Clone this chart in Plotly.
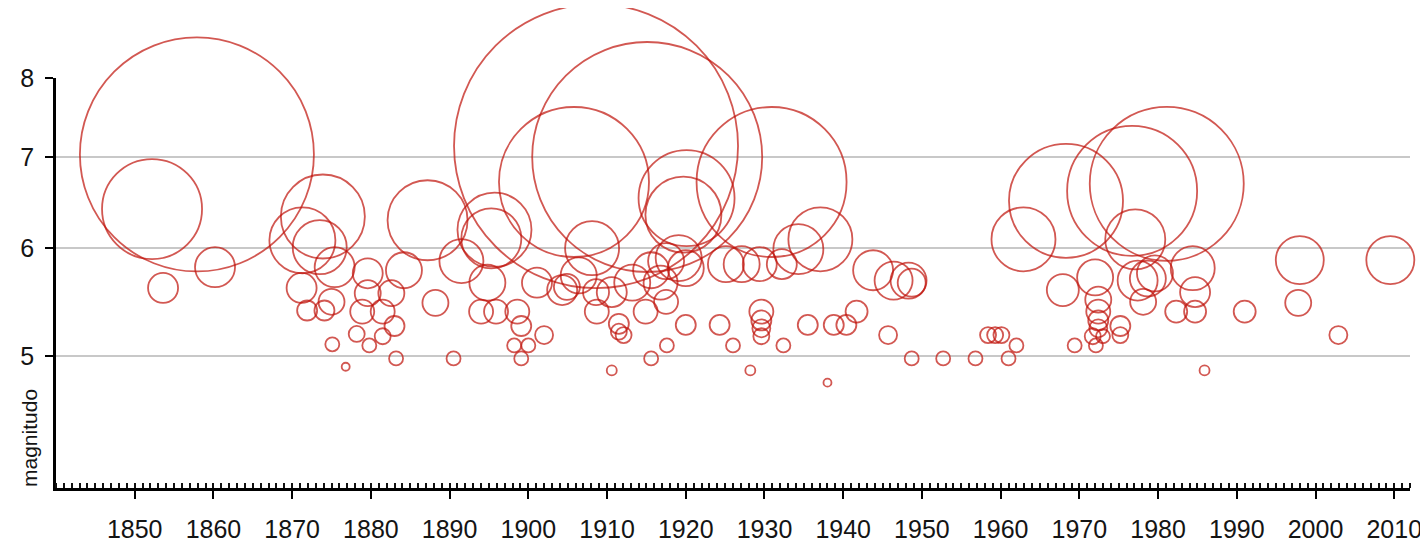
import math
import plotly.graph_objects as go

# terremoti: anno, magnitudo, dimensione della bolla (area relativa)
anno = [
    1852.2, 1853.6, 1857.9, 1860.2, 1871.3, 1873.9, 1873.5, 1875.4, 1871.2, 1875.0,
    1871.9, 1874.1, 1875.1, 1876.8, 1878.2, 1879.6, 1879.6, 1882.6, 1878.9, 1881.5,
    1883.0, 1881.5, 1879.8, 1883.2, 1884.2, 1887.2, 1888.2, 1890.5, 1891.5, 1895.7,
    1895.3, 1894.8, 1894.0, 1895.9, 1898.6, 1899.1, 1898.2, 1900.0, 1899.1, 1902.0,
    1901.1, 1904.3, 1904.9, 1906.4, 1905.8, 1908.6, 1915.1, 1908.1, 1908.6, 1910.6,
    1913.2, 1915.6, 1917.5, 1919.1, 1920.0, 1916.8, 1908.7, 1911.5, 1911.5, 1912.1,
    1914.9, 1917.5, 1915.6, 1917.6, 1920.0, 1924.3, 1926.0, 1910.6, 1928.2, 1925.1,
    1927.1, 1929.4, 1929.6, 1929.6, 1929.6, 1929.6, 1932.4, 1932.2, 1930.9, 1920.1,
    1919.7, 1937.1, 1934.3, 1943.8, 1946.4, 1948.3, 1948.7, 1935.5, 1938.8, 1940.4,
    1941.7, 1945.7, 1948.7, 1952.7, 1956.8, 1961.0, 1958.4, 1959.3, 1960.1, 1962.0,
    1938.0, 1969.4, 1967.9, 1972.0, 1962.9, 1968.3, 1976.7, 1981.1, 1977.1, 1972.4,
    1972.4, 1972.4, 1972.4, 1971.7, 1973.0, 1972.1, 1975.2, 1975.2, 1977.4, 1978.7,
    1979.6, 1978.1, 1984.4, 1984.7, 1982.3, 1984.7, 1985.9, 1991.0, 1998.0, 1997.8,
    2002.9, 2009.5,
]
magnitudo = [
    6.41, 5.61, 7.03, 5.81, 6.08, 6.33, 6.01, 5.81, 5.61, 5.48,
    5.40, 5.40, 5.10, 4.91, 5.19, 5.75, 5.56, 5.56, 5.39, 5.39,
    5.26, 5.17, 5.09, 4.98, 5.78, 6.29, 5.47, 4.98, 5.87, 6.19,
    6.10, 5.66, 5.39, 5.39, 5.39, 5.26, 5.09, 5.09, 4.98, 5.18,
    5.66, 5.59, 5.62, 5.73, 6.71, 7.13, 7.00, 6.00, 5.57, 5.57,
    5.66, 5.78, 5.87, 5.90, 5.80, 5.66, 5.39, 5.28, 5.21, 5.18,
    5.39, 5.48, 4.98, 5.09, 5.27, 5.27, 5.09, 4.88, 4.88, 5.84,
    5.84, 5.84, 5.39, 5.31, 5.24, 5.17, 5.09, 5.84, 6.71, 6.53,
    6.35, 6.09, 5.99, 5.78, 5.68, 5.68, 5.66, 5.27, 5.27, 5.27,
    5.39, 5.18, 4.98, 4.98, 4.98, 4.98, 5.18, 5.18, 5.18, 5.09,
    4.78, 5.09, 5.59, 5.71, 6.09, 6.50, 6.61, 6.69, 6.09, 5.50,
    5.39, 5.31, 5.24, 5.17, 5.17, 5.09, 5.26, 5.18, 5.68, 5.70,
    5.75, 5.48, 5.80, 5.57, 5.39, 5.39, 4.88, 5.39, 5.88, 5.47,
    5.18, 5.88,
]
dimensione = [
    2500, 225, 13689, 400, 1089, 1764, 729, 400, 225, 169,
    100, 100, 49, 16, 64, 225, 169, 169, 144, 144,
    100, 64, 49, 49, 324, 1600, 169, 49, 484, 1369,
    900, 324, 144, 144, 144, 100, 49, 49, 49, 81,
    225, 225, 169, 324, 5625, 20164, 13225, 729, 169, 225,
    324, 324, 324, 529, 324, 289, 144, 100, 64, 64,
    144, 144, 49, 49, 100, 100, 49, 25, 25, 324,
    324, 289, 144, 100, 81, 64, 49, 225, 5625, 2304,
    1444, 1024, 625, 400, 361, 324, 196, 100, 100, 100,
    121, 81, 49, 49, 49, 49, 64, 64, 64, 49,
    16, 49, 256, 324, 1024, 3249, 4225, 5929, 900, 169,
    144, 100, 81, 64, 49, 49, 100, 64, 400, 324,
    324, 169, 484, 225, 121, 121, 25, 121, 576, 169,
    81, 576,
]

anni_etichette = list(range(1850, 2011, 10))
magn_etichette = [5, 6, 7, 8]

ROSSO = "#c0120a"
TESTO = "#141414"
FONT = "Liberation Sans, Arial, sans-serif"

fig = go.Figure()
fig.add_trace(go.Scatter(
    x=anno, y=magnitudo, mode="markers",
    marker=dict(
        size=dimensione, sizemode="area", sizeref=0.5, sizemin=1,
        color="rgba(0,0,0,0)",
        line=dict(color=ROSSO, width=1.8),
    ),
    cliponaxis=False, hoverinfo="x+y",
))

fig.update_layout(
    width=1428, height=547,
    margin=dict(l=46, r=26, t=70, b=52),
    plot_bgcolor="white", paper_bgcolor="white",
    showlegend=False,
    font=dict(family=FONT, color=TESTO),
    xaxis=dict(
        range=[1840, 2012],
        tickmode="array", tickvals=anni_etichette,
        ticks="outside", ticklen=8, tickwidth=2, tickcolor="black",
        minor=dict(tick0=1840, dtick=1, ticks="inside", ticklen=5,
                   tickwidth=2, tickcolor="#111111"),
        showline=True, linecolor="black", linewidth=2.5,
        showgrid=False, zeroline=False,
        tickfont=dict(size=25, family=FONT, color=TESTO),
        ticklabelstandoff=9,
    ),
    yaxis=dict(
        type="log", range=[math.log10(4), math.log10(8)],
        tickmode="array", tickvals=magn_etichette,
        ticktext=[str(v) for v in magn_etichette],
        ticks="outside", ticklen=8, tickwidth=2, tickcolor="black",
        showline=True, linecolor="black", linewidth=2.5,
        showgrid=True, gridcolor="#c8c8c8", gridwidth=2,
        zeroline=False,
        tickfont=dict(size=25, family=FONT, color=TESTO),
        ticklabelstandoff=6,
    ),
)

fig.add_annotation(
    text="magnitudo", textangle=-90,
    xref="paper", yref="paper", x=0, y=0,
    xanchor="center", yanchor="bottom",
    xshift=-27, yshift=-1, showarrow=False,
    font=dict(size=21, family=FONT, color=TESTO),
)

fig.write_html("out.html")
